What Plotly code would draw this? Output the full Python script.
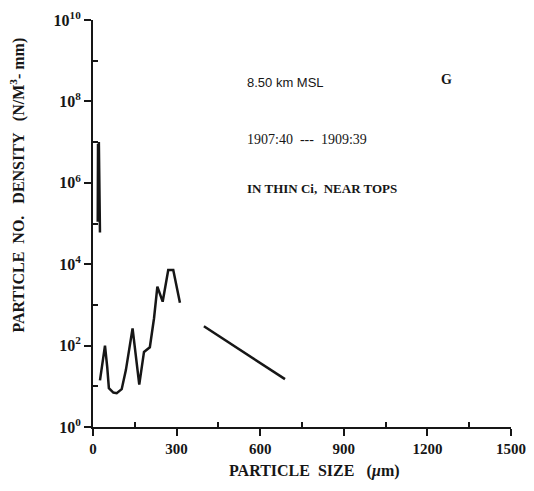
import plotly.graph_objects as go

# Spike of small particles near the axis
spike_size = [17, 18, 19, 21, 23, 25]
spike_density = [1.1e5, 9e6, 2e6, 1e7, 1e6, 6e4]

# Main measured spectrum
size = [25, 43, 51, 57, 73, 85, 103, 118, 142, 166, 183, 204, 219, 231, 250, 270, 288, 312]
density = [14, 100, 30, 9, 7, 6.8, 8.5, 25, 265, 11, 70, 91, 470, 2800, 1200, 7200, 7200, 1130]

# Extrapolated tail
tail_size = [398, 689]
tail_density = [300, 15]

x_ticks = [0, 300, 600, 900, 1200, 1500]
x_ticktext = ["<b>%d</b>" % v for v in x_ticks]
x_minor = [150, 450, 750, 1050, 1350]
y_ticks = [1, 1e2, 1e4, 1e6, 1e8, 1e10]
y_ticktext = ["<b>10<sup>0</sup></b>", "<b>10<sup>2</sup></b>", "<b>10<sup>4</sup></b>",
              "<b>10<sup>6</sup></b>", "<b>10<sup>8</sup></b>", "<b>10<sup>10</sup></b>"]
y_minor = [10, 1e3, 1e5, 1e7, 1e9]

INK = "#161616"
BG = "#ffffff"
SERIF = "Liberation Serif"

fig = go.Figure()

for xs, ys in [(spike_size, spike_density), (size, density), (tail_size, tail_density)]:
    fig.add_trace(
        go.Scatter(
            x=xs,
            y=ys,
            mode="lines",
            line=dict(color=INK, width=2.5),
            showlegend=False,
        )
    )

# page body has an 8px margin, so the figure is sized to fit inside it
fig.update_layout(
    width=518,
    height=475,
    margin=dict(l=85, r=15, t=12, b=56),
    paper_bgcolor=BG,
    plot_bgcolor=BG,
    font=dict(family=SERIF, color=INK, size=14),
    showlegend=False,
)

fig.update_xaxes(
    range=[0, 1500],
    automargin=False,
    tickvals=x_ticks,
    ticktext=x_ticktext,
    ticks="outside",
    ticklen=7,
    tickwidth=2,
    tickcolor=INK,
    tickfont=dict(family=SERIF, size=15, color=INK),
    minor=dict(tickvals=x_minor, ticks="inside", ticklen=5, tickwidth=2, tickcolor=INK, showgrid=False),
    showline=True,
    linewidth=2,
    linecolor=INK,
    showgrid=False,
    zeroline=False,
)

fig.update_yaxes(
    type="log",
    range=[0, 10],
    automargin=False,
    tickvals=y_ticks,
    ticktext=y_ticktext,
    ticks="outside",
    ticklen=7,
    tickwidth=2,
    tickcolor=INK,
    tickfont=dict(family=SERIF, size=16, color=INK),
    minor=dict(tickvals=y_minor, ticks="inside", ticklen=5, tickwidth=2, tickcolor=INK, showgrid=False),
    showline=True,
    linewidth=2,
    linecolor=INK,
    showgrid=False,
    zeroline=False,
)

# Axis titles
fig.add_annotation(
    text="<b>PARTICLE  NO.   DENSITY   (N/M<sup>3</sup>- mm)</b>",
    xref="paper", yref="paper", x=-0.18, y=0.595,
    xanchor="center", yanchor="middle",
    textangle=-90, showarrow=False,
    font=dict(family=SERIF, size=16, color=INK),
)
fig.add_annotation(
    text="<b>PARTICLE  SIZE   (<i>µ</i>m)</b>",
    xref="paper", yref="paper", x=0.529, y=-0.108,
    xanchor="center", yanchor="middle", showarrow=False,
    font=dict(family=SERIF, size=16, color=INK),
)

# Flight info text
fig.add_annotation(
    text="8.50 km MSL", xref="paper", yref="paper", x=0.364, y=0.870,
    xanchor="left", showarrow=False,
    font=dict(family="Liberation Sans", size=13, color=INK),
)
fig.add_annotation(
    text="<b>G</b>", xref="paper", yref="paper", x=0.864, y=0.876,
    showarrow=False, font=dict(family=SERIF, size=14, color=INK),
)
fig.add_annotation(
    text="1907:40  ---  1909:39", xref="paper", yref="paper", x=0.364, y=0.730,
    xanchor="left", showarrow=False, font=dict(family=SERIF, size=14, color=INK),
)
fig.add_annotation(
    text="<b>IN THIN Ci,  NEAR TOPS</b>", xref="paper", yref="paper", x=0.364, y=0.587,
    xanchor="left", showarrow=False, font=dict(family=SERIF, size=13, color=INK),
)

fig.write_html("out.html")
